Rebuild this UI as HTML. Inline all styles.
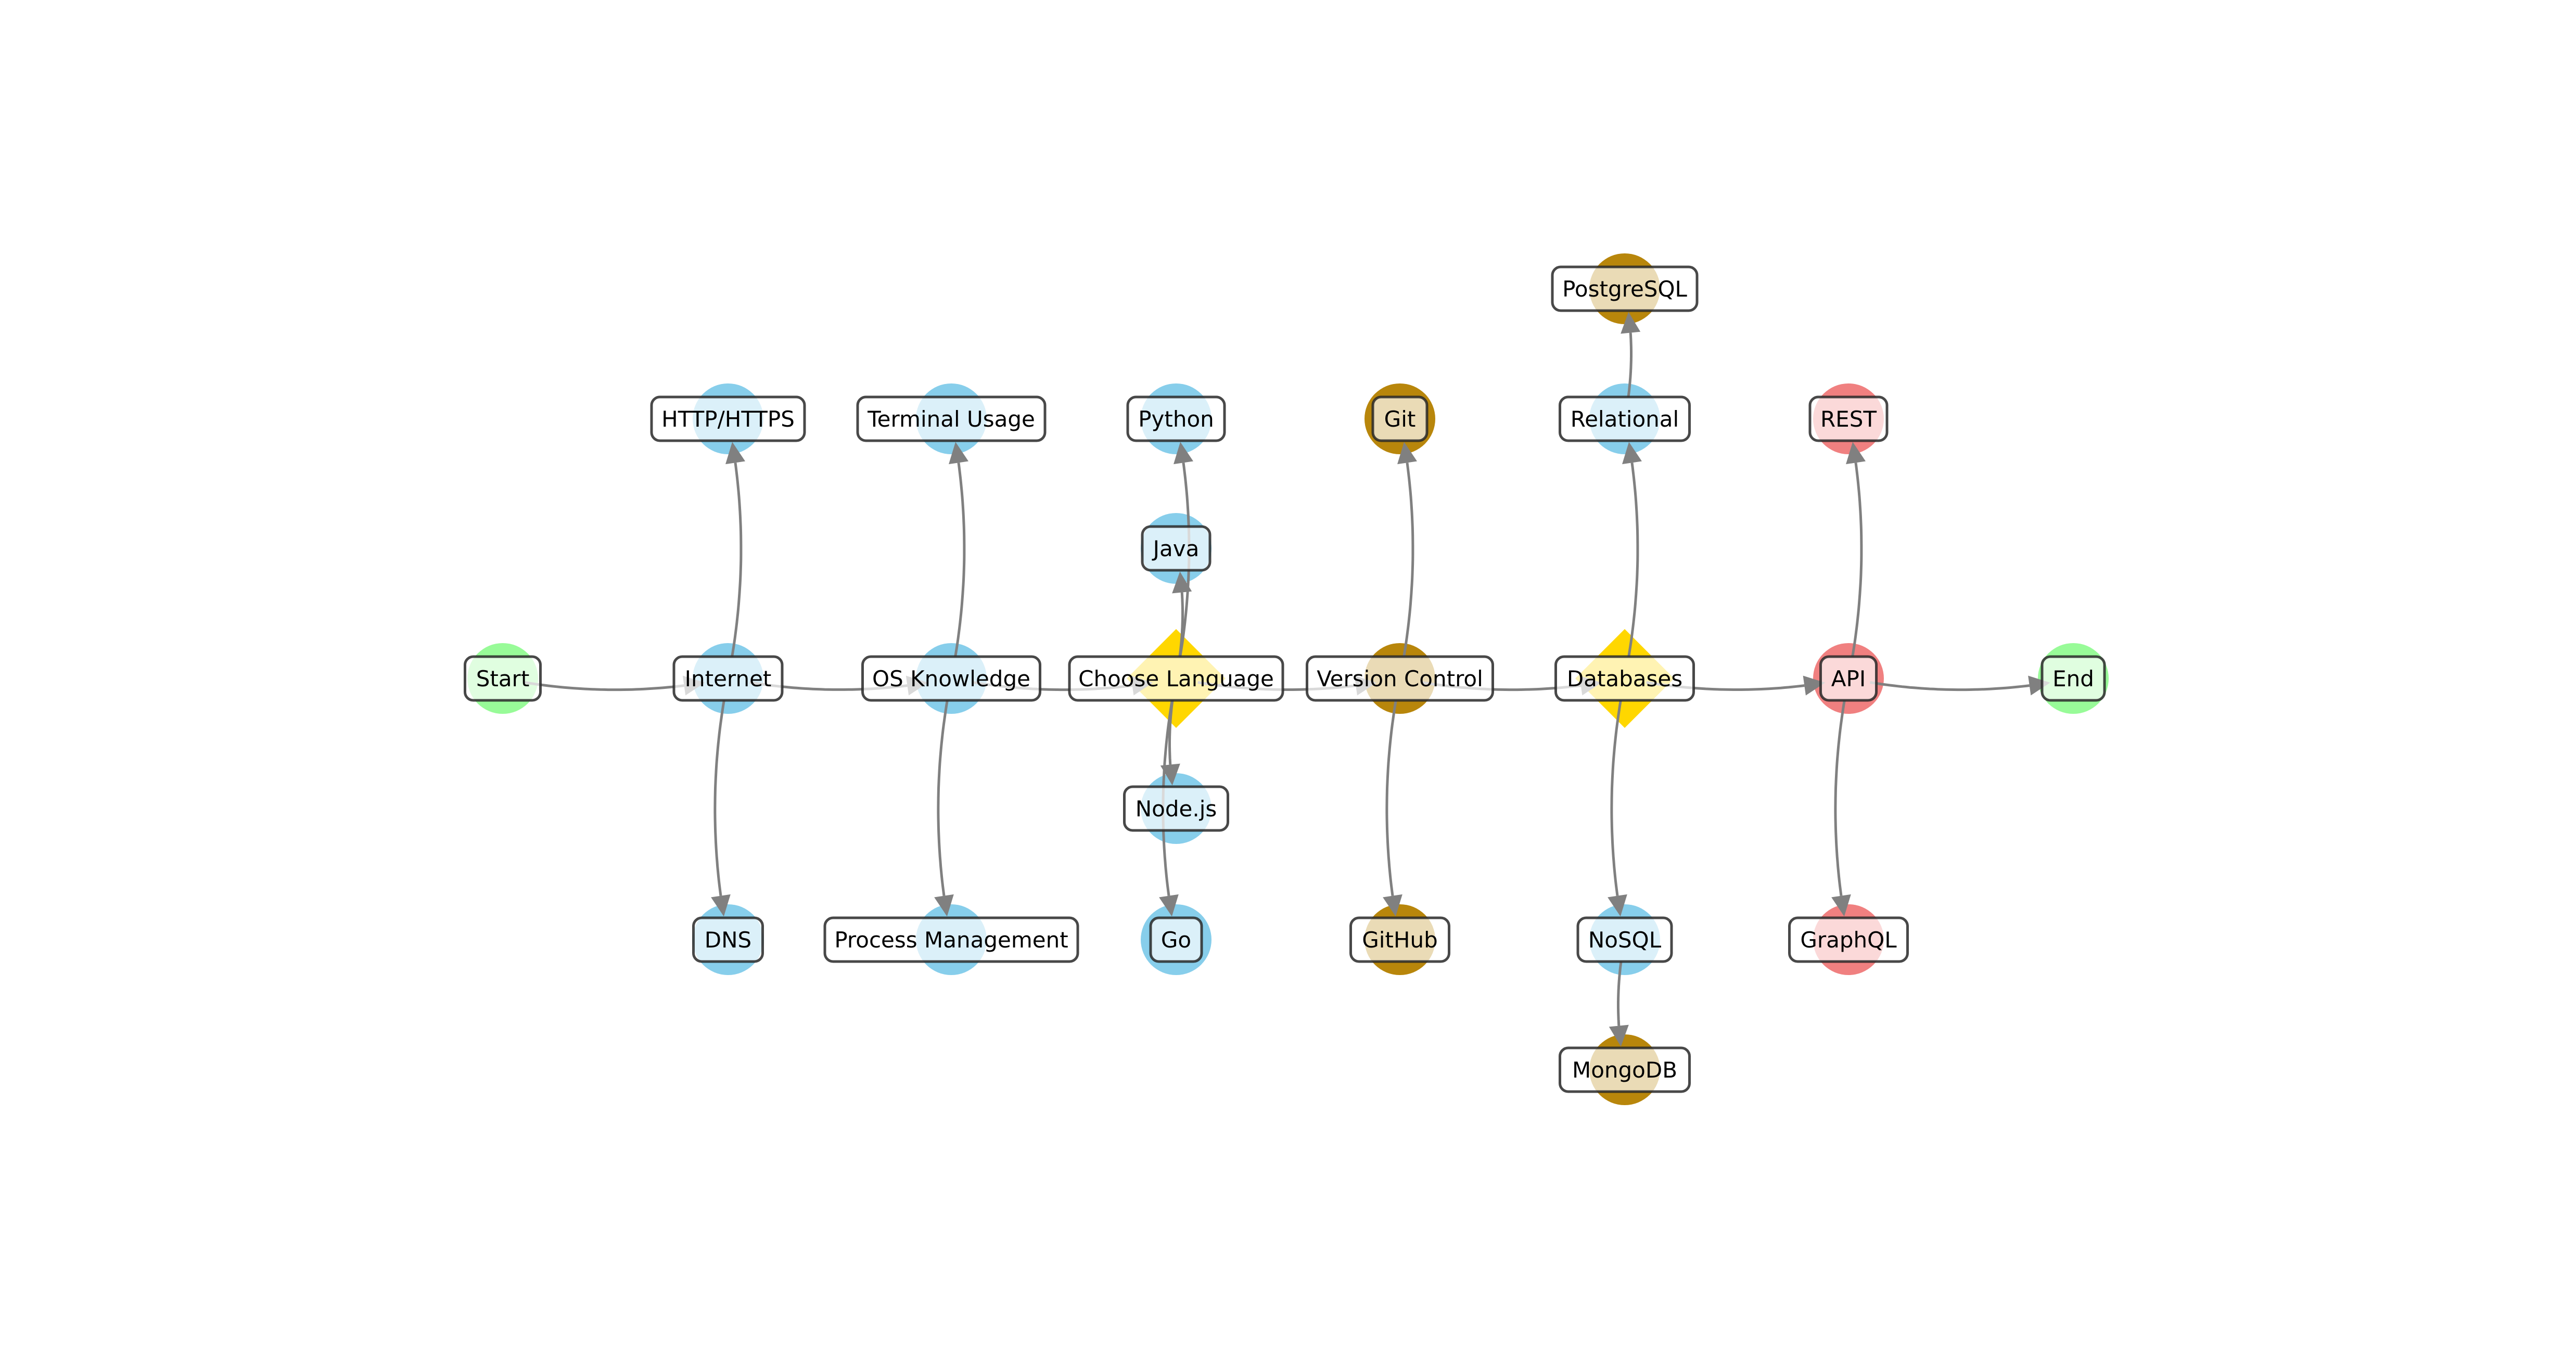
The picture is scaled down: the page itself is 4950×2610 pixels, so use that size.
<!DOCTYPE html>
<html><head><meta charset="utf-8"><style>
html,body{margin:0;padding:0;background:#fff;}
svg{display:block;}
text{font-family:"DejaVu Sans","Liberation Sans",sans-serif;font-size:42px;fill:#000;}
</style></head><body>
<svg id="s" width="4950" height="2610" viewBox="0 0 4950 2610" xmlns="http://www.w3.org/2000/svg">
<rect width="4950" height="2610" fill="#fff"/>
<g id="shapes"></g><g id="edges"></g><g id="boxes"></g>
</svg>
<script>
var N={
Start:[966,1304,'c','#98FB98',145],
Internet:[1399,1304,'c','#87CEEB',208],
OS:[1828,1304,'c','#87CEEB',341,'OS Knowledge'],
Choose:[2260,1304,'d','#FFD700',410,'Choose Language'],
VC:[2690,1304,'c','#B8860B',357,'Version Control'],
Databases:[3122,1304,'d','#FFD700',265],
API:[3552,1304,'c','#F08080',107],
End:[3984,1304,'c','#98FB98',120],
HTTP:[1399,805,'c','#87CEEB',294,'HTTP/HTTPS'],
DNS:[1399,1806,'c','#87CEEB',133],
Terminal:[1828,805,'c','#87CEEB',360,'Terminal Usage'],
Process:[1828,1806,'c','#87CEEB',486,'Process Management'],
Python:[2260,805,'c','#87CEEB',186],
Java:[2260,1054,'c','#87CEEB',130],
Node:[2260,1554,'c','#87CEEB',199,'Node.js'],
Go:[2260,1806,'c','#87CEEB',98],
Git:[2690,805,'c','#B8860B',104],
GitHub:[2690,1806,'c','#B8860B',189],
Relational:[3122,805,'c','#87CEEB',249],
Postgres:[3122,555,'c','#B8860B',278,'PostgreSQL'],
NoSQL:[3122,1806,'c','#87CEEB',180],
Mongo:[3122,2056,'c','#B8860B',249,'MongoDB'],
REST:[3552,805,'c','#F08080',148],
GraphQL:[3552,1806,'c','#F08080',227]
};
var E=[['Start','Internet'],['Internet','OS'],['OS','Choose'],['Choose','VC'],['VC','Databases'],['Databases','API'],['API','End'],
['Internet','HTTP'],['Internet','DNS'],['OS','Terminal'],['OS','Process'],['Choose','Python'],['Choose','Java'],['Choose','Node'],['Choose','Go'],
['VC','Git'],['VC','GitHub'],['Databases','Relational'],['Databases','NoSQL'],['Relational','Postgres'],['NoSQL','Mongo'],['API','REST'],['API','GraphQL']];
var sh='',ed='',bx='';
for(var k in N){var n=N[k];
 if(n[2]=='c') sh+='<circle cx="'+n[0]+'" cy="'+n[1]+'" r="68" fill="'+n[3]+'"/>';
 else sh+='<polygon points="'+n[0]+','+(n[1]-95)+' '+(n[0]+95)+','+n[1]+' '+n[0]+','+(n[1]+95)+' '+(n[0]-95)+','+n[1]+'" fill="'+n[3]+'"/>';
 var w=n[4],h=84;
 bx+='<rect x="'+(n[0]-w/2)+'" y="'+(n[1]-h/2)+'" width="'+w+'" height="'+h+'" rx="16" fill="rgba(255,255,255,0.7)" stroke="rgba(40,40,40,0.85)" stroke-width="5"/>';
 bx+='<text x="'+n[0]+'" y="'+(n[1]+15)+'" text-anchor="middle">'+(n[5]||k)+'</text>';
}
function B(p0,c,p1,t){var u=1-t;return [u*u*p0[0]+2*u*t*c[0]+t*t*p1[0],u*u*p0[1]+2*u*t*c[1]+t*t*p1[1]];}
function d(a,b){return Math.hypot(a[0]-b[0],a[1]-b[1]);}
E.forEach(function(e){var a=N[e[0]],b=N[e[1]];var p0=[a[0],a[1]],p1=[b[0],b[1]];
 var dx=p1[0]-p0[0],dy=p1[1]-p0[1];var c=[(p0[0]+p1[0])/2-0.1*dy,(p0[1]+p1[1])/2+0.1*dx];
 var ts=0,te=1,i;for(i=0;i<=1000;i++){if(d(B(p0,c,p1,i/1000),p0)>=42){ts=i/1000;break;}}
 for(i=1000;i>=0;i--){if(d(B(p0,c,p1,i/1000),p1)>=45){te=i/1000;break;}}
 var tip=B(p0,c,p1,te);var tb=te;for(i=Math.round(te*1000);i>=0;i--){if(d(B(p0,c,p1,i/1000),tip)>=40){tb=i/1000;break;}}
 var base=B(p0,c,p1,tb);
 var pts=[];for(i=0;i<=40;i++){var t=ts+(tb-ts)*i/40;var p=B(p0,c,p1,t);pts.push(p[0].toFixed(1)+','+p[1].toFixed(1));}
 ed+='<polyline points="'+pts.join(' ')+'" fill="none" stroke="#808080" stroke-width="5"/>';
 var ux=(tip[0]-base[0])/40,uy=(tip[1]-base[1])/40;var px=-uy*19,py=ux*19;
 ed+='<polygon points="'+tip[0]+','+tip[1]+' '+(base[0]+px)+','+(base[1]+py)+' '+(base[0]-px)+','+(base[1]-py)+'" fill="#808080"/>';
});
document.getElementById('shapes').innerHTML=sh;
document.getElementById('edges').innerHTML=ed;
document.getElementById('boxes').innerHTML=bx;
</script>
</body></html>
